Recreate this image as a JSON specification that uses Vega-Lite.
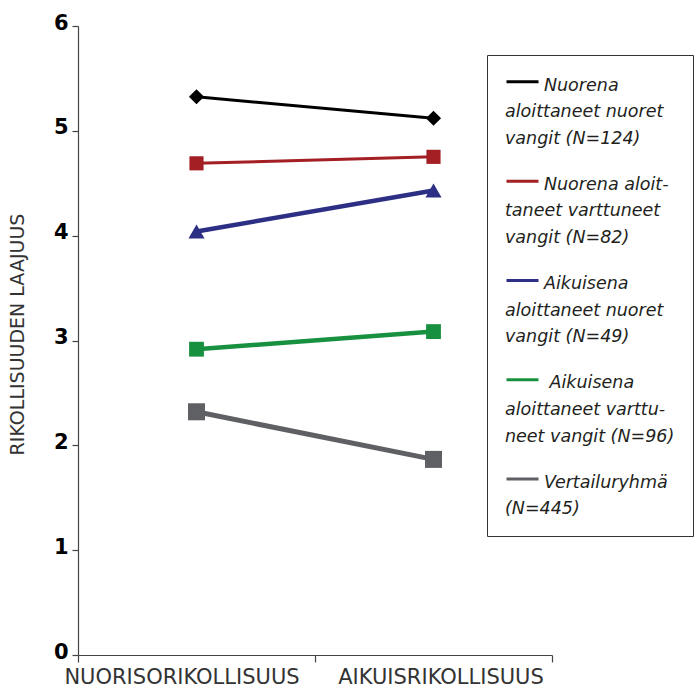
{
  "$schema": "https://vega.github.io/schema/vega-lite/v6.json",
  "width": 474,
  "height": 629,
  "autosize": {"type": "none"},
  "padding": {"left": 78, "top": 26, "right": 147, "bottom": 33},
  "background": "white",
  "config": {
    "view": {"stroke": null},
    "style": {"guide-label": {"lineHeight": 26.7}}
  },
  "data": {
    "values": [
      {"group": "Nuorena aloittaneet nuoret vangit (N=124)", "period": "NUORISORIKOLLISUUS", "value": 5.325},
      {"group": "Nuorena aloittaneet nuoret vangit (N=124)", "period": "AIKUISRIKOLLISUUS", "value": 5.12},
      {"group": "Nuorena aloittaneet varttuneet vangit (N=82)", "period": "NUORISORIKOLLISUUS", "value": 4.69},
      {"group": "Nuorena aloittaneet varttuneet vangit (N=82)", "period": "AIKUISRIKOLLISUUS", "value": 4.752},
      {"group": "Aikuisena aloittaneet nuoret vangit (N=49)", "period": "NUORISORIKOLLISUUS", "value": 4.04},
      {"group": "Aikuisena aloittaneet nuoret vangit (N=49)", "period": "AIKUISRIKOLLISUUS", "value": 4.43},
      {"group": "Aikuisena aloittaneet varttuneet vangit (N=96)", "period": "NUORISORIKOLLISUUS", "value": 2.917},
      {"group": "Aikuisena aloittaneet varttuneet vangit (N=96)", "period": "AIKUISRIKOLLISUUS", "value": 3.085},
      {"group": "Vertailuryhmä (N=445)", "period": "NUORISORIKOLLISUUS", "value": 2.32},
      {"group": "Vertailuryhmä (N=445)", "period": "AIKUISRIKOLLISUUS", "value": 1.866}
    ]
  },
  "encoding": {
    "x": {
      "field": "period",
      "type": "nominal",
      "sort": ["NUORISORIKOLLISUUS", "AIKUISRIKOLLISUUS"],
      "scale": {"type": "band", "paddingInner": 0, "paddingOuter": 0},
      "axis": {
        "title": null,
        "tickBand": "extent",
        "tickSize": 7,
        "tickColor": "#444444",
        "tickWidth": 1.2,
        "domainColor": "#444444",
        "domainWidth": 1.2,
        "labelFont": "DejaVu Sans",
        "labelFontSize": 21,
        "labelColor": "#333333",
        "labelPadding": 4,
        "labelAngle": 0,
        "labelLimit": 400,
        "labelOffset": {"condition": {"test": "datum.value === 'NUORISORIKOLLISUUS'", "value": -15}, "value": 7},
        "grid": false
      }
    },
    "y": {
      "field": "value",
      "type": "quantitative",
      "scale": {"domain": [0, 6], "nice": false},
      "axis": {
        "title": "RIKOLLISUUDEN LAAJUUS",
        "values": [0, 1, 2, 3, 4, 5, 6],
        "tickSize": 6,
        "tickColor": "#444444",
        "tickWidth": 1.2,
        "domainColor": "#444444",
        "domainWidth": 1.2,
        "labelPadding": 4,
        "labelFont": "DejaVu Sans",
        "labelFontWeight": "bold",
        "labelFontSize": 21,
        "labelColor": "#000000",
        "labelOffset": -3,
        "grid": false,
        "titleFont": "DejaVu Sans",
        "titleFontSize": 19,
        "titleFontWeight": "normal",
        "titleColor": "#333333",
        "titlePadding": 26,
        "titleY": 308
      }
    }
  },
  "layer": [
    {
      "mark": {"type": "line"},
      "encoding": {
        "color": {
          "field": "group",
          "type": "nominal",
          "scale": {
            "domain": ["Nuorena aloittaneet nuoret vangit (N=124)", "Nuorena aloittaneet varttuneet vangit (N=82)", "Aikuisena aloittaneet nuoret vangit (N=49)", "Aikuisena aloittaneet varttuneet vangit (N=96)", "Vertailuryhmä (N=445)"],
            "range": ["#000000", "#a31f24", "#2c2f84", "#17903f", "#5f6064"]
          },
          "legend": {
            "title": null,
            "orient": "none",
            "legendX": 409,
            "legendY": 29,
            "padding": 18,
            "strokeColor": "#333333",
            "fillColor": "white",
            "symbolType": "M-1,-0.54L1,-0.54",
            "symbolSize": 1024,
            "symbolStrokeWidth": 3,
            "labelFont": "DejaVu Sans",
            "labelFontSize": 17.5,
            "labelFontStyle": "italic",
            "labelColor": "#231f20",
            "labelBaseline": "alphabetic",
            "labelOffset": -35,
            "labelLimit": 400,
            "rowPadding": 24.3,
            "labelExpr": "datum.label == 'Nuorena aloittaneet nuoret vangit (N=124)' ? ['\u200b\u00a0\u00a0\u00a0\u00a0\u00a0\u00a0\u00a0Nuorena', 'aloittaneet nuoret', 'vangit (N=124)'] : datum.label == 'Nuorena aloittaneet varttuneet vangit (N=82)' ? ['\u200b\u00a0\u00a0\u00a0\u00a0\u00a0\u00a0\u00a0Nuorena aloit-', 'taneet varttuneet', 'vangit (N=82)'] : datum.label == 'Aikuisena aloittaneet nuoret vangit (N=49)' ? ['\u200b\u00a0\u00a0\u00a0\u00a0\u00a0\u00a0\u00a0Aikuisena', 'aloittaneet nuoret', 'vangit (N=49)'] : datum.label == 'Aikuisena aloittaneet varttuneet vangit (N=96)' ? ['\u200b\u00a0\u00a0\u00a0\u00a0\u00a0\u00a0\u00a0\u00a0Aikuisena', 'aloittaneet varttu-', 'neet vangit (N=96)'] : ['\u200b\u00a0\u00a0\u00a0\u00a0\u00a0\u00a0\u00a0Vertailuryhmä', '(N=445)']"
          }
        },
        "strokeWidth": {
          "field": "group",
          "type": "nominal",
          "scale": {
            "type": "ordinal",
            "domain": ["Vertailuryhmä (N=445)", "Aikuisena aloittaneet varttuneet vangit (N=96)", "Aikuisena aloittaneet nuoret vangit (N=49)", "Nuorena aloittaneet varttuneet vangit (N=82)", "Nuorena aloittaneet nuoret vangit (N=124)"],
            "range": [5, 4.5, 4.5, 3, 3]
          },
          "legend": null
        }
      }
    },
    {
      "mark": {"type": "point", "filled": true, "opacity": 1},
      "encoding": {
        "fill": {
          "field": "group",
          "type": "nominal",
          "scale": {
            "domain": ["Vertailuryhmä (N=445)", "Aikuisena aloittaneet varttuneet vangit (N=96)", "Aikuisena aloittaneet nuoret vangit (N=49)", "Nuorena aloittaneet varttuneet vangit (N=82)", "Nuorena aloittaneet nuoret vangit (N=124)"],
            "range": ["#5f6064", "#17903f", "#2c2f84", "#a31f24", "#000000"]
          },
          "legend": null
        },
        "shape": {
          "field": "group",
          "type": "nominal",
          "scale": {
            "domain": ["Vertailuryhmä (N=445)", "Aikuisena aloittaneet varttuneet vangit (N=96)", "Aikuisena aloittaneet nuoret vangit (N=49)", "Nuorena aloittaneet varttuneet vangit (N=82)", "Nuorena aloittaneet nuoret vangit (N=124)"],
            "range": ["square", "square", "triangle-up", "square", "diamond"]
          },
          "legend": null
        },
        "size": {
          "field": "group",
          "type": "nominal",
          "scale": {
            "type": "ordinal",
            "domain": ["Vertailuryhmä (N=445)", "Aikuisena aloittaneet varttuneet vangit (N=96)", "Aikuisena aloittaneet nuoret vangit (N=49)", "Nuorena aloittaneet varttuneet vangit (N=82)", "Nuorena aloittaneet nuoret vangit (N=124)"],
            "range": [290, 220, 260, 200, 230]
          },
          "legend": null
        }
      }
    }
  ]
}
